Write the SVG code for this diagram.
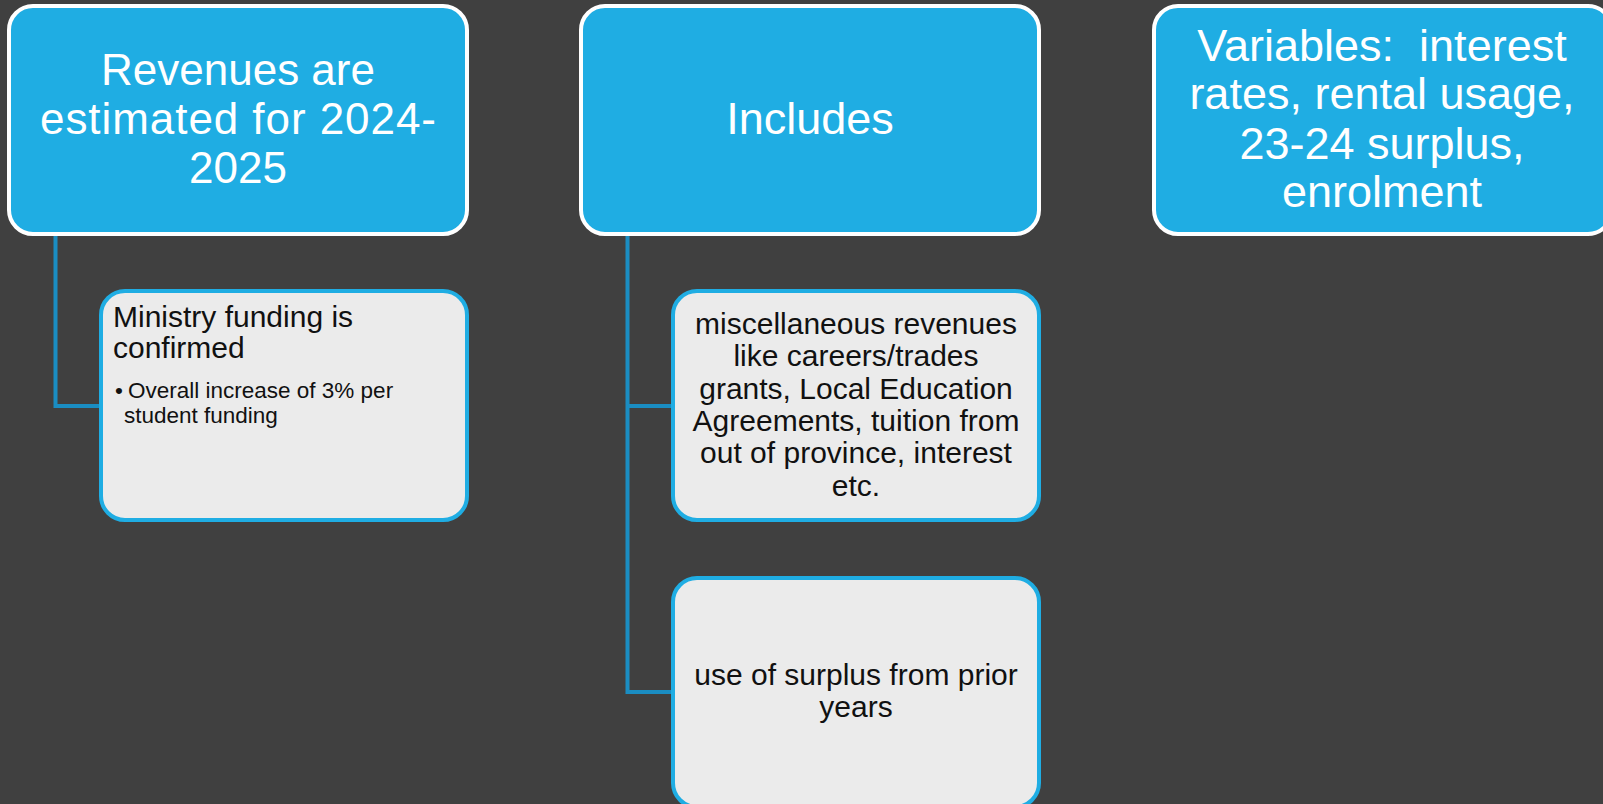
<svg xmlns="http://www.w3.org/2000/svg" width="1603" height="804" viewBox="0 0 1603 804">
<style>
.top{fill:#1FADE3;stroke:#FFFFFF;stroke-width:4}
.sub{fill:#EBEBEB;stroke:#1FADE3;stroke-width:4}
.conn{fill:none;stroke:#1A8DC2;stroke-width:4}
.tt{font-family:"Liberation Sans",Arial,sans-serif;fill:#FFFFFF;text-anchor:middle}
.st{font-family:"Liberation Sans",Arial,sans-serif;fill:#111111}
</style>
<rect x="0" y="0" width="1603" height="804" fill="#404040"/>
<g id="connectors">
<path class="conn" d="M55.5,232 V406 H101"/>
<path class="conn" d="M627.5,232 V692 H673"/>
<path class="conn" d="M627.5,406 H673"/>
</g>
<g id="node-revenues">
<rect class="top" x="9" y="6" width="458" height="228" rx="24"/>
<text class="tt" font-size="44"><tspan x="238" y="85">Revenues are</tspan><tspan x="238" y="134" textLength="396" lengthAdjust="spacing">estimated for 2024-</tspan><tspan x="238" y="183">2025</tspan></text>
</g>
<g id="node-ministry">
<rect class="sub" x="101" y="291" width="366" height="229" rx="24"/>
<text class="st" font-size="30"><tspan x="113" y="327">Ministry funding is</tspan><tspan x="113" y="358">confirmed</tspan></text>
<text class="st" font-size="22.5"><tspan x="115" y="398">•</tspan><tspan x="128" y="398">Overall increase of 3% per</tspan><tspan x="124" y="423">student funding</tspan></text>
</g>
<g id="node-includes">
<rect class="top" x="581" y="6" width="458" height="228" rx="24"/>
<text class="tt" font-size="45" x="810" y="134">Includes</text>
</g>
<g id="node-misc">
<rect class="sub" x="673" y="291" width="366" height="229" rx="24"/>
<text class="st" font-size="30" text-anchor="middle"><tspan x="856" y="334">miscellaneous revenues</tspan><tspan x="856" y="366">like careers/trades</tspan><tspan x="856" y="399">grants, Local Education</tspan><tspan x="856" y="431">Agreements, tuition from</tspan><tspan x="856" y="463">out of province, interest</tspan><tspan x="856" y="496">etc.</tspan></text>
</g>
<g id="node-surplus">
<rect class="sub" x="673" y="578" width="366" height="229" rx="24"/>
<text class="st" font-size="30" text-anchor="middle"><tspan x="856" y="685">use of surplus from prior</tspan><tspan x="856" y="717">years</tspan></text>
</g>
<g id="node-variables">
<rect class="top" x="1154" y="6" width="458" height="228" rx="24"/>
<text class="tt" font-size="45" xml:space="preserve"><tspan x="1382" y="61">Variables:  interest</tspan><tspan x="1382" y="109">rates, rental usage,</tspan><tspan x="1382" y="159">23-24 surplus,</tspan><tspan x="1382" y="207">enrolment</tspan></text>
</g>
</svg>
